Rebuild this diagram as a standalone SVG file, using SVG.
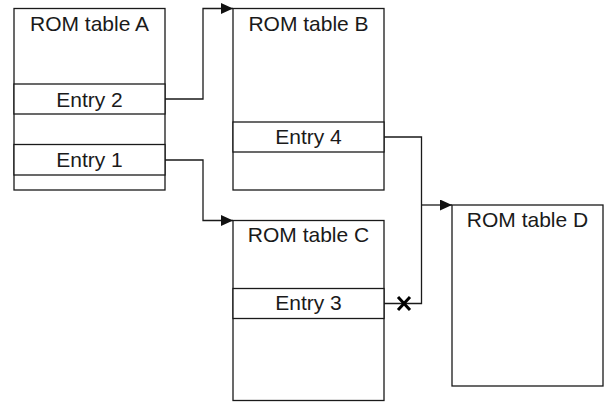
<svg xmlns="http://www.w3.org/2000/svg" width="605" height="402" viewBox="0 0 605 402">
  <style>
    .box { fill: #ffffff; stroke: #1a1a1a; stroke-width: 1.3; }
    .wire { fill: none; stroke: #1a1a1a; stroke-width: 1.3; }
    .lbl { font-family: "Liberation Sans", Arial, sans-serif; font-size: 21px; fill: #1a1a1a; text-anchor: middle; }
  </style>
  <defs>
    <marker id="arrow" viewBox="0 0 12 11" refX="12" refY="5.5" markerWidth="12" markerHeight="11" markerUnits="userSpaceOnUse" orient="auto">
      <path d="M0,0 L12,5.5 L0,11 Z" fill="#111"/>
    </marker>
  </defs>

  <g id="rom-a">
    <rect class="box" x="14" y="8.5" width="151" height="181.5"/>
    <rect class="box" x="14" y="84" width="151" height="30"/>
    <rect class="box" x="14" y="144.5" width="151" height="30.5"/>
    <text class="lbl" x="89.5" y="31">ROM table A</text>
    <text class="lbl" x="89.5" y="106.5">Entry 2</text>
    <text class="lbl" x="89.5" y="166.5">Entry 1</text>
  </g>

  <g id="rom-b">
    <rect class="box" x="233" y="8.5" width="151" height="181.5"/>
    <rect class="box" x="233" y="122" width="151" height="30"/>
    <text class="lbl" x="308.5" y="31">ROM table B</text>
    <text class="lbl" x="308.5" y="144">Entry 4</text>
  </g>

  <g id="rom-c">
    <rect class="box" x="233" y="220.5" width="151" height="180"/>
    <rect class="box" x="233" y="288.5" width="151" height="30"/>
    <text class="lbl" x="308.5" y="242">ROM table C</text>
    <text class="lbl" x="308.5" y="310">Entry 3</text>
  </g>

  <g id="rom-d">
    <rect class="box" x="452" y="205" width="151" height="181"/>
    <text class="lbl" x="527.5" y="227">ROM table D</text>
  </g>

  <g id="connectors">
    <!-- Entry 2 -> ROM table B -->
    <path class="wire" d="M165,99 H203 V8.5 H233" marker-end="url(#arrow)"/>
    <!-- Entry 1 -> ROM table C -->
    <path class="wire" d="M165,160 H203 V220.5 H233" marker-end="url(#arrow)"/>
    <!-- Entry 4 / Entry 3 -> ROM table D -->
    <path class="wire" d="M384,137 H421.5 V303.5 H384"/>
    <path class="wire" d="M421.5,205 H452" marker-end="url(#arrow)"/>
    <!-- broken link mark on Entry 3 -->
    <path d="M398,297 L410,310 M410,297 L398,310" stroke="#000" stroke-width="3" fill="none"/>
  </g>
</svg>
